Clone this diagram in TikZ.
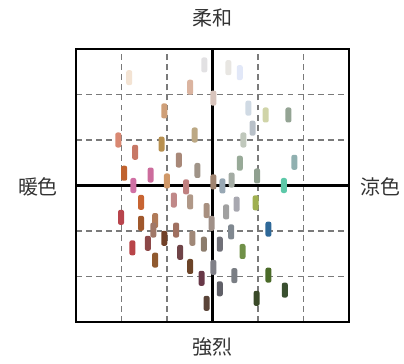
\documentclass[tikz,border=0pt]{standalone}
\usepackage{fontspec}
\newfontfamily\jpfont{Noto Sans CJK JP}
\definecolor{labelgray}{HTML}{333333}
\definecolor{gridgray}{HTML}{7A7A7A}
\tikzset{
	chip/.style={rounded corners=1.3pt},
	axislabel/.style={font=\jpfont\fontsize{12.5}{15}\selectfont, text=labelgray}
}
\begin{document}
\begin{tikzpicture}
	\useasboundingbox (-4.670,-3.923) rectangle (4.209,4.077);
	\draw[step=1, color=gridgray, line width=1.1pt, dash pattern=on 3.7pt off 2.6pt] (-3,-3) grid (3,3);
	\draw[line width=1.4pt] (-3,-3) rectangle (3,3);
	\draw[line width=1.4pt] (-3,0) -- (3,0);
	\draw[line width=1.4pt] (0,-3) -- (0,3);
	\node[axislabel] (soft) at (0.01,3.69) {柔和};
	\node[axislabel] (strong) at (0.01,-3.55) {強烈};
	\node[axislabel] (warm) at (-3.835,-0.03) {暖色};
	\node[axislabel] (cool) at (3.70,-0.03) {涼色};
	% color chips
	\foreach \x/\y/\c in {
		-0.18/2.65/E2E1E3, -1.83/2.37/F3E3D3, -0.49/2.16/DBB4A0, 0.02/1.92/D8C4BC,
		-1.06/1.64/CF9F78, -2.07/1.00/D98872, -1.12/0.91/B8904F, -0.39/1.11/BCA884,
		-1.70/0.73/C77866, -0.74/0.56/A88878, -0.33/0.33/A09488, -1.94/0.27/C0622E,
		-1.36/0.23/CC6C9C, -1.74/0.00/D070A4, -1.00/0.10/D09868, -0.58/-0.03/C08080,
		0.02/0.08/A08470, 0.22/-0.01/98A8B4, 0.42/0.12/A4ACA4, 0.98/0.21/90A090,
		1.57/0.00/5CC8A8, 0.35/2.59/E8E6E2, 0.60/2.48/E2E8F8, 0.79/1.70/D0DAE4,
		1.17/1.55/D0D4A8, 1.67/1.55/94A494, 0.88/1.26/B8C0C8, 0.68/1.00/C0C8BC,
		0.60/0.49/98AA98, 1.80/0.51/90B0B0, -1.57/-0.37/C86432, -0.85/-0.32/C08888,
		-0.49/-0.36/B09888, -0.13/-0.55/A89080, 0.53/-0.41/A8A8B0, 0.30/-0.58/A0A0A0,
		0.95/-0.38/A0B050, -2.01/-0.70/B8444C, -1.57/-0.83/A0582C, -1.26/-0.77/B07A58,
		-0.02/-0.83/A09088, -1.30/-0.98/A07868, -0.80/-0.98/A07060, 0.41/-1.02/808890,
		1.23/-0.96/2E6898, -1.06/-1.16/704028, -0.44/-1.16/A08878, -0.19/-1.29/8C7C6C,
		-1.42/-1.27/8C4848, -1.76/-1.37/B84448, 0.16/-1.29/707078, -0.71/-1.47/704448,
		0.66/-1.45/709048, -1.26/-1.64/905A30, -0.49/-1.78/6C4428, 0.02/-1.80/808088,
		-0.24/-2.04/683848, 0.48/-1.98/7A7E84, 1.23/-1.97/4A6A28, 0.16/-2.27/606068,
		1.59/-2.30/3A5030, 0.97/-2.48/3A4A28, -0.13/-2.59/5A4438}
	{
		\definecolor{chipcolor}{HTML}{\c}
		\fill[chip, chipcolor] (\x-0.066,\y-0.165) rectangle (\x+0.066,\y+0.165);
	}
\end{tikzpicture}
\end{document}
